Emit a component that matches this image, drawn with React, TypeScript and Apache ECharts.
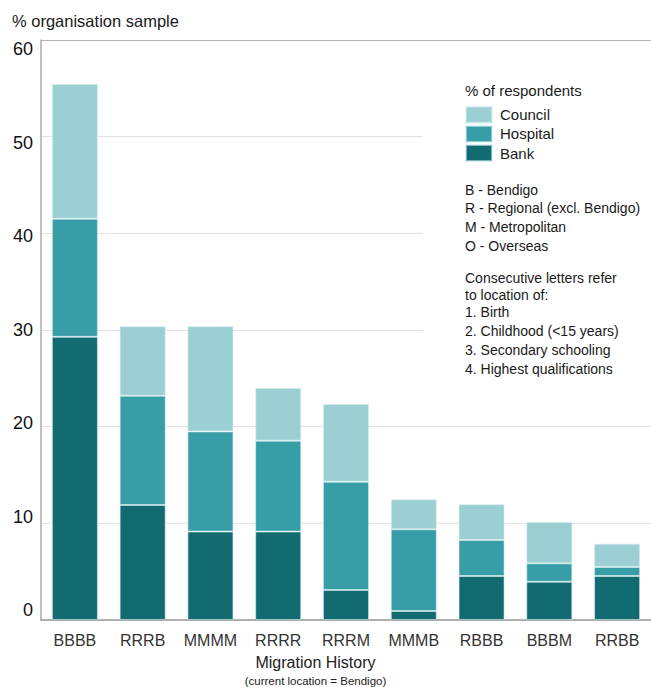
import React, { useEffect, useRef } from "react";
import * as echarts from "echarts";

const categories = ["BBBB", "RRRB", "MMMM", "RRRR", "RRRM", "MMMB", "RBBB", "BBBM", "RRBB"];
const bankValues = [29.3, 11.9, 9.15, 9.15, 3.1, 0.93, 4.55, 3.96, 4.55];
const hospitalValues = [12.2, 11.3, 10.35, 9.4, 11.2, 8.45, 3.73, 1.9, 0.93];
const councilValues = [13.95, 7.2, 10.9, 5.45, 8.05, 3.1, 3.7, 4.28, 2.42];
const legendNames = ["Council", "Hospital", "Bank"];
const yTicks = { min: 0, max: 60, interval: 10 };

const titleText = "% organisation sample";
const legendTitle = "% of respondents";
const keyLines = ["B - Bendigo", "R - Regional (excl. Bendigo)", "M - Metropolitan", "O - Overseas"];
const noteLines = ["Consecutive letters refer", "to location of:"];
const stageLines = ["1. Birth", "2. Childhood (<15 years)", "3. Secondary schooling", "4. Highest qualifications"];
const xName = "Migration History";
const xSubName = "(current location = Bendigo)";

const COLORS = { Council: "#9ccfd4", Hospital: "#379da6", Bank: "#116b70" };
const FONT = "Liberation Sans, Arial, sans-serif";

export default function App() {
  const ref = useRef<HTMLDivElement>(null);
  useEffect(() => {
    if (!ref.current) return;
    const chart = echarts.init(ref.current, undefined, { renderer: "svg" });

    const textEl = (text: string, x: number, y: number, size: number, extra: any = {}) => ({
      type: "text",
      x,
      y,
      z: 10,
      style: {
        text,
        fontSize: size,
        fontFamily: FONT,
        fill: "#1a1a1a",
        textVerticalAlign: "middle",
        textAlign: "left",
        ...extra,
      },
    });

    const keyY = [189.5, 208.3, 227, 246];
    const noteY = [277.7, 295.3];
    const stageY = [312, 331, 350, 369];

    const graphics: any[] = [
      { type: "rect", z: 1, shape: { x: 423, y: 60, width: 240, height: 330 }, style: { fill: "#fff" } },
      textEl(titleText, 12, 20.5, 16.5),
      textEl(legendTitle, 465, 90, 15),
      ...keyLines.map((t, i) => textEl(t, 465, keyY[i], 14)),
      ...noteLines.map((t, i) => textEl(t, 465, noteY[i], 14)),
      ...stageLines.map((t, i) => textEl(t, 465, stageY[i], 14)),
      textEl(xName, 315.5, 662.5, 16, { textAlign: "center", fill: "#222" }),
      textEl(xSubName, 315.5, 680.5, 11.5, { textAlign: "center", fill: "#222" }),
    ];

    const seriesDef = [
      { name: "Bank", data: bankValues },
      { name: "Hospital", data: hospitalValues },
      { name: "Council", data: councilValues },
    ];

    chart.setOption({
      animation: false,
      textStyle: { fontFamily: FONT },
      grid: [
        { left: 41, top: 40, width: 612, height: 580 },
        { left: 41, top: 49, width: 1, height: 561 },
      ],
      legend: {
        data: legendNames,
        orient: "vertical",
        left: 465,
        top: 105.7,
        padding: 0,
        itemWidth: 26,
        itemHeight: 16,
        itemGap: 1.2,
        icon: "rect",
        selectedMode: false,
        z: 10,
        textStyle: { fontSize: 15, color: "#1a1a1a", lineHeight: 16, padding: [0, 0, 0, 3], fontFamily: FONT },
      },
      xAxis: [
        {
          type: "category",
          data: categories,
          gridIndex: 0,
          axisLine: { lineStyle: { color: "#999", width: 1.5 } },
          axisTick: { show: false },
          axisLabel: { fontSize: 16, color: "#333", margin: 12, interval: 0, fontFamily: FONT },
        },
        { type: "value", gridIndex: 1, show: false },
      ],
      yAxis: [
        {
          type: "value",
          gridIndex: 0,
          min: yTicks.min,
          max: yTicks.max,
          interval: yTicks.interval,
          axisLine: { show: true, lineStyle: { color: "#aaa", width: 1.5 } },
          axisTick: { show: false },
          axisLabel: { show: false },
          splitLine: {
            show: true,
            lineStyle: { color: ["#e2e2e2", "#e2e2e2", "#e2e2e2", "#e2e2e2", "#e2e2e2", "#e2e2e2", "#b3b3b3"], width: 1 },
          },
        },
        {
          type: "value",
          gridIndex: 1,
          min: yTicks.min,
          max: yTicks.max,
          interval: yTicks.interval,
          axisLine: { show: false },
          axisTick: { show: false },
          splitLine: { show: false },
          axisLabel: { fontSize: 18, color: "#111", margin: 8, fontFamily: FONT },
        },
      ],
      series: seriesDef.map((s) => ({
        name: s.name,
        type: "bar",
        stack: "total",
        xAxisIndex: 0,
        yAxisIndex: 0,
        barWidth: 46,
        data: s.data,
        itemStyle: { color: (COLORS as any)[s.name], borderColor: "rgba(215,238,240,0.55)", borderWidth: 1 },
      })),
      graphic: graphics,
    });
    return () => chart.dispose();
  }, []);
  return <div ref={ref} style={{ position: "fixed", left: 0, top: 0, width: 651, height: 687, background: "#fff" }} />;
}
